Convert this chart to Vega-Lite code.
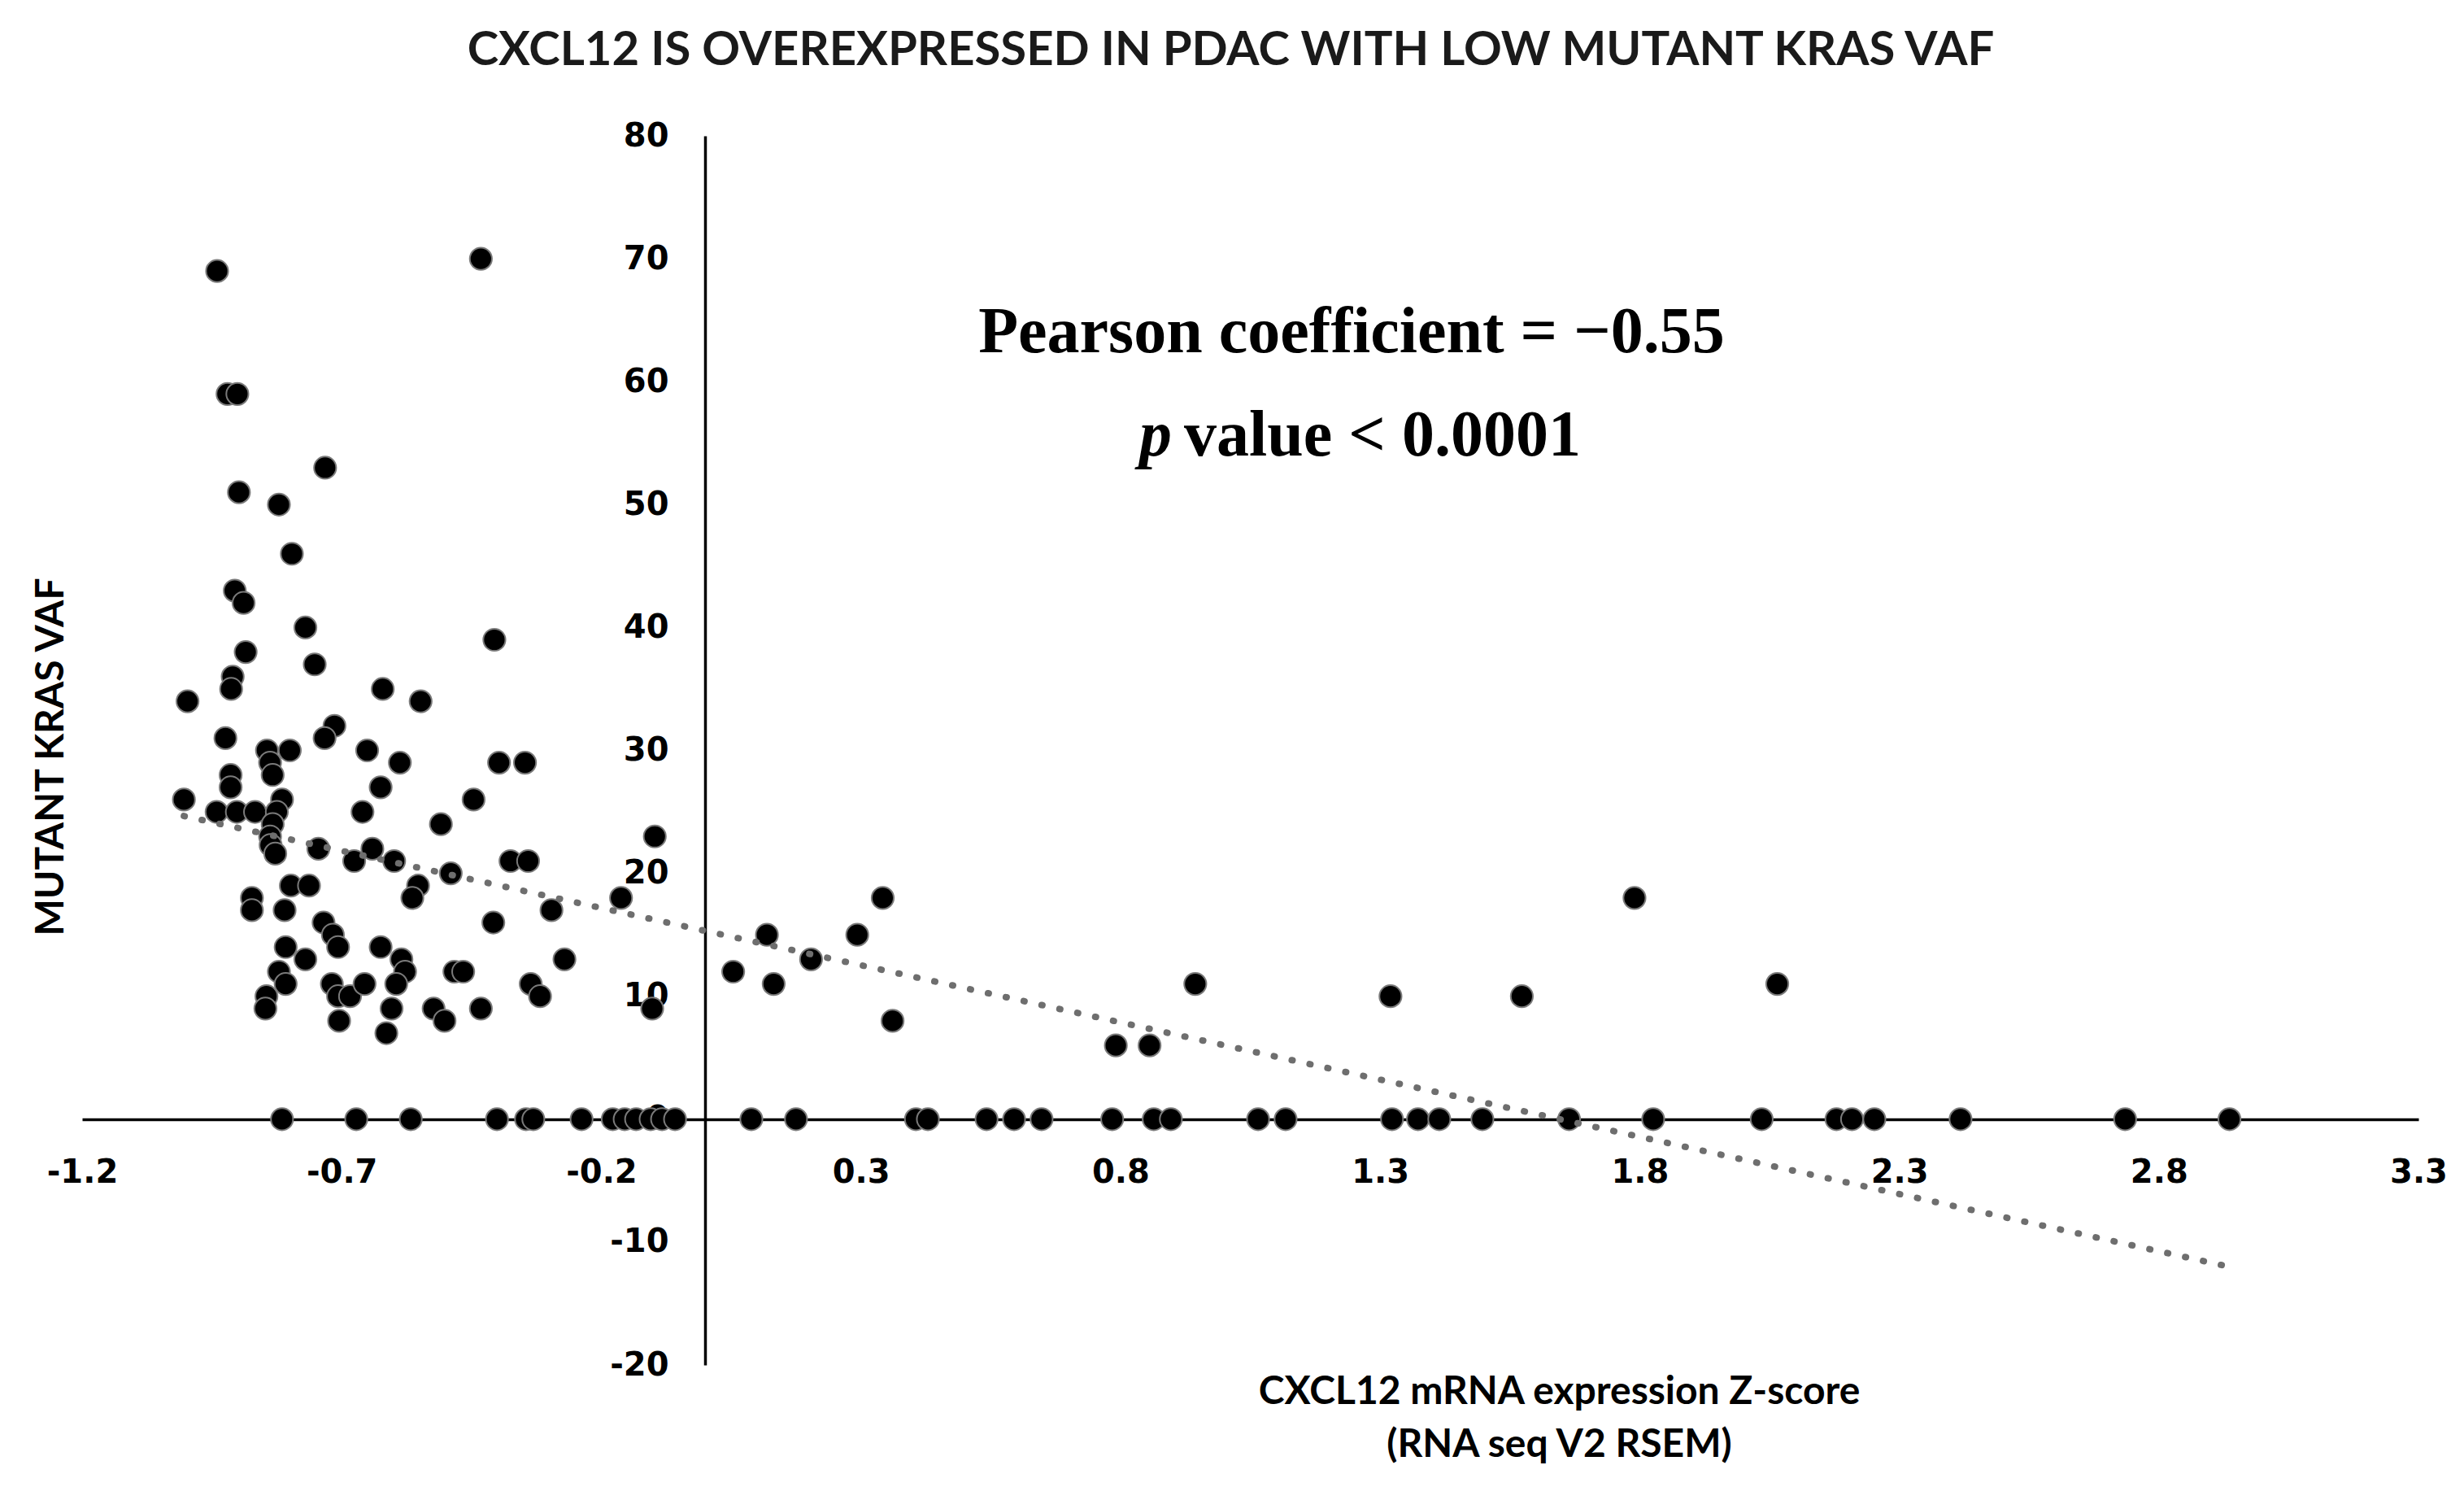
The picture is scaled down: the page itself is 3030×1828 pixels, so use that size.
{
  "$schema": "https://vega.github.io/schema/vega-lite/v6.json",
  "width": 2873,
  "height": 1511,
  "autosize": {"type": "none"},
  "padding": {"left": 101, "top": 167, "right": 56, "bottom": 150},
  "background": "white",
  "config": {"view": {"stroke": null}, "axis": {"grid": false}},
  "title": {
    "text": "CXCL12 IS OVEREXPRESSED IN PDAC WITH LOW MUTANT  KRAS VAF",
    "font": "Lato", "fontSize": 58, "fontWeight": "bold", "color": "#1a1a1a",
    "anchor": "middle", "frame": "group", "baseline": "alphabetic", "offset": 9, "dx": -24
  },
  "datasets": {
    "pts": [
      {"z": -0.940, "vaf": 69}, {"z": -0.432, "vaf": 70}, {"z": -0.920, "vaf": 59}, {"z": -0.901, "vaf": 59},
      {"z": -0.732, "vaf": 53}, {"z": -0.898, "vaf": 51}, {"z": -0.821, "vaf": 50}, {"z": -0.796, "vaf": 46},
      {"z": -0.906, "vaf": 43}, {"z": -0.889, "vaf": 42}, {"z": -0.770, "vaf": 40}, {"z": -0.406, "vaf": 39},
      {"z": -0.885, "vaf": 38}, {"z": -0.752, "vaf": 37}, {"z": -0.910, "vaf": 36}, {"z": -0.913, "vaf": 35},
      {"z": -0.997, "vaf": 34}, {"z": -0.621, "vaf": 35}, {"z": -0.548, "vaf": 34}, {"z": -0.714, "vaf": 32},
      {"z": -0.733, "vaf": 31}, {"z": -0.924, "vaf": 31}, {"z": -0.844, "vaf": 30}, {"z": -0.800, "vaf": 30},
      {"z": -0.651, "vaf": 30}, {"z": -0.838, "vaf": 29}, {"z": -0.833, "vaf": 28}, {"z": -0.588, "vaf": 29},
      {"z": -0.397, "vaf": 29}, {"z": -0.347, "vaf": 29}, {"z": -0.914, "vaf": 28}, {"z": -0.914, "vaf": 27},
      {"z": -0.625, "vaf": 27}, {"z": -0.446, "vaf": 26}, {"z": -1.004, "vaf": 26}, {"z": -0.941, "vaf": 25},
      {"z": -0.902, "vaf": 25}, {"z": -0.867, "vaf": 25}, {"z": -0.660, "vaf": 25}, {"z": -0.815, "vaf": 26},
      {"z": -0.825, "vaf": 25}, {"z": -0.833, "vaf": 24}, {"z": -0.838, "vaf": 23}, {"z": -0.837, "vaf": 22.3},
      {"z": -0.828, "vaf": 21.6}, {"z": -0.509, "vaf": 24}, {"z": -0.745, "vaf": 22}, {"z": -0.641, "vaf": 22},
      {"z": -0.676, "vaf": 21}, {"z": -0.599, "vaf": 21}, {"z": -0.553, "vaf": 19}, {"z": -0.564, "vaf": 18},
      {"z": -0.490, "vaf": 20}, {"z": -0.375, "vaf": 21}, {"z": -0.341, "vaf": 21}, {"z": -0.097, "vaf": 23},
      {"z": -0.162, "vaf": 18}, {"z": -0.296, "vaf": 17}, {"z": -0.408, "vaf": 16}, {"z": -0.271, "vaf": 13},
      {"z": -0.798, "vaf": 19}, {"z": -0.763, "vaf": 19}, {"z": -0.873, "vaf": 18}, {"z": -0.873, "vaf": 17},
      {"z": -0.810, "vaf": 17}, {"z": -0.735, "vaf": 16}, {"z": -0.717, "vaf": 15}, {"z": -0.707, "vaf": 14},
      {"z": -0.808, "vaf": 14}, {"z": -0.770, "vaf": 13}, {"z": -0.625, "vaf": 14}, {"z": -0.585, "vaf": 13},
      {"z": -0.578, "vaf": 12}, {"z": -0.595, "vaf": 11}, {"z": -0.483, "vaf": 12}, {"z": -0.466, "vaf": 12},
      {"z": -0.821, "vaf": 12}, {"z": -0.808, "vaf": 11}, {"z": -0.845, "vaf": 10}, {"z": -0.847, "vaf": 9},
      {"z": -0.719, "vaf": 11}, {"z": -0.707, "vaf": 10}, {"z": -0.684, "vaf": 10}, {"z": -0.656, "vaf": 11},
      {"z": -0.604, "vaf": 9}, {"z": -0.705, "vaf": 8}, {"z": -0.614, "vaf": 7}, {"z": -0.523, "vaf": 9},
      {"z": -0.502, "vaf": 8}, {"z": -0.432, "vaf": 9}, {"z": -0.336, "vaf": 11}, {"z": -0.318, "vaf": 10},
      {"z": -0.102, "vaf": 9},
      {"z": 0.342, "vaf": 18}, {"z": 0.119, "vaf": 15}, {"z": 0.293, "vaf": 15}, {"z": 0.204, "vaf": 13},
      {"z": 0.054, "vaf": 12}, {"z": 0.132, "vaf": 11}, {"z": 0.361, "vaf": 8}, {"z": 0.791, "vaf": 6},
      {"z": 0.856, "vaf": 6}, {"z": 0.944, "vaf": 11}, {"z": 1.320, "vaf": 10}, {"z": 1.573, "vaf": 10},
      {"z": 1.790, "vaf": 18}, {"z": 2.065, "vaf": 11},
      {"z": -0.815, "vaf": 0}, {"z": -0.672, "vaf": 0}, {"z": -0.567, "vaf": 0}, {"z": -0.401, "vaf": 0},
      {"z": -0.345, "vaf": 0}, {"z": -0.331, "vaf": 0}, {"z": -0.238, "vaf": 0}, {"z": -0.178, "vaf": 0},
      {"z": -0.155, "vaf": 0}, {"z": -0.133, "vaf": 0}, {"z": -0.105, "vaf": 0}, {"z": -0.083, "vaf": 0},
      {"z": -0.058, "vaf": 0}, {"z": 0.089, "vaf": 0}, {"z": 0.175, "vaf": 0}, {"z": 0.406, "vaf": 0},
      {"z": 0.429, "vaf": 0}, {"z": 0.542, "vaf": 0}, {"z": 0.595, "vaf": 0}, {"z": 0.648, "vaf": 0},
      {"z": 0.784, "vaf": 0}, {"z": 0.864, "vaf": 0}, {"z": 0.897, "vaf": 0}, {"z": 1.065, "vaf": 0},
      {"z": 1.118, "vaf": 0}, {"z": 1.323, "vaf": 0}, {"z": 1.373, "vaf": 0}, {"z": 1.414, "vaf": 0},
      {"z": 1.497, "vaf": 0}, {"z": 1.664, "vaf": 0}, {"z": 1.826, "vaf": 0}, {"z": 2.035, "vaf": 0},
      {"z": 2.179, "vaf": 0}, {"z": 2.209, "vaf": 0}, {"z": 2.252, "vaf": 0}, {"z": 2.418, "vaf": 0},
      {"z": 2.735, "vaf": 0}, {"z": 2.936, "vaf": 0}
    ],
    "notes": [
      {"line1": "Pearson coefficient = \u22120.55", "pItalic": "p", "line2": "value < 0.0001"}
    ]
  },
  "layer": [
    {
      "data": {"name": "pts"},
      "mark": {"type": "circle", "size": 740, "fill": "#000000", "fillOpacity": 1, "opacity": 1, "stroke": "#7a7a7a", "strokeWidth": 2},
      "encoding": {
        "x": {
          "field": "z", "type": "quantitative",
          "scale": {"domain": [-1.2, 3.3], "nice": false, "zero": false},
          "axis": {
            "values": [-1.2, -0.7, -0.2, 0.3, 0.8, 1.3, 1.8, 2.3, 2.8, 3.3],
            "labelExpr": "datum.value < 0 ? '-' + format(-datum.value, '.1f') : format(datum.value, '.1f')",
            "offset": -302, "domainColor": "#000000", "domainWidth": 3.5, "domainCap": "butt",
            "ticks": false, "tickSize": 0, "labelPadding": 45, "labelFlush": false, "labelOverlap": false,
            "labelFont": "DejaVu Sans", "labelFontWeight": "bold", "labelFontSize": 40, "labelColor": "#000000",
            "title": ["CXCL12 mRNA expression Z-score", "(RNA seq V2 RSEM)"],
            "titleX": 1816, "titleY": 349, "titleAlign": "center", "titleBaseline": "alphabetic", "titleAnchor": null,
            "titleFont": "Lato", "titleFontSize": 48, "titleFontWeight": "bold", "titleColor": "#000000", "titleLineHeight": 65
          }
        },
        "y": {
          "field": "vaf", "type": "quantitative",
          "scale": {"domain": [-20, 80], "nice": false, "zero": false},
          "axis": {
            "values": [-20, -10, 0, 10, 20, 30, 40, 50, 60, 70, 80],
            "labelExpr": "datum.value < 0 ? '-' + format(-datum.value, 'd') : format(datum.value, 'd')",
            "offset": -766, "domainColor": "#000000", "domainWidth": 3.5, "domainCap": "butt",
            "ticks": false, "tickSize": 0, "labelPadding": 45, "labelFlush": false, "labelOverlap": false,
            "labelFont": "DejaVu Sans", "labelFontWeight": "bold", "labelFontSize": 40, "labelColor": "#000000",
            "labelBaseline": "middle",
            "title": "MUTANT KRAS VAF",
            "titleX": -804, "titleY": 763, "titleAngle": -90, "titleAlign": "center", "titleBaseline": "middle",
            "titleFont": "Lato", "titleFontSize": 48, "titleFontWeight": "bold", "titleColor": "#000000"
          }
        }
      }
    },
    {
      "data": {"name": "pts"},
      "transform": [{"regression": "vaf", "on": "z"}],
      "mark": {"type": "line", "color": "#6e6e6e", "strokeWidth": 8, "strokeDash": [1, 21.5], "strokeCap": "round"},
      "encoding": {
        "x": {"field": "z", "type": "quantitative"},
        "y": {"field": "vaf", "type": "quantitative"}
      }
    },
    {
      "data": {"name": "notes"},
      "mark": {"type": "text", "font": "Liberation Serif", "fontWeight": "bold", "fontSize": 80, "align": "center", "baseline": "alphabetic", "color": "#000000"},
      "encoding": {
        "text": {"field": "line1"},
        "x": {"datum": 1.245, "type": "quantitative"},
        "y": {"datum": 62.4, "type": "quantitative"}
      }
    },
    {
      "data": {"name": "notes"},
      "mark": {"type": "text", "font": "Liberation Serif", "fontWeight": "bold", "fontStyle": "italic", "fontSize": 80, "align": "right", "baseline": "alphabetic", "color": "#000000"},
      "encoding": {
        "text": {"field": "pItalic"},
        "x": {"datum": 0.899, "type": "quantitative"},
        "y": {"datum": 54.0, "type": "quantitative"}
      }
    },
    {
      "data": {"name": "notes"},
      "mark": {"type": "text", "font": "Liberation Serif", "fontWeight": "bold", "fontSize": 80, "align": "left", "baseline": "alphabetic", "color": "#000000"},
      "encoding": {
        "text": {"field": "line2"},
        "x": {"datum": 0.9225, "type": "quantitative"},
        "y": {"datum": 54.0, "type": "quantitative"}
      }
    }
  ]
}
